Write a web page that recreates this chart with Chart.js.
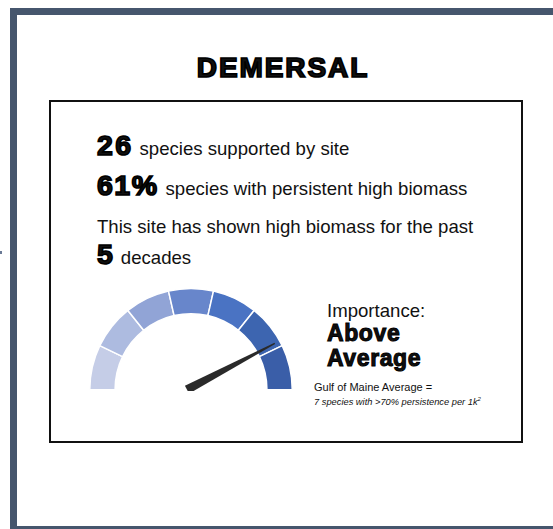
<!DOCTYPE html>
<html>
<head>
<meta charset="utf-8">
<script src="https://cdn.jsdelivr.net/npm/chart.js@4"></script>
<style>
  html, body { margin: 0; padding: 0; background: #fff; }
  body { width: 553px; height: 529px; overflow: hidden; position: relative; font-family: "Liberation Sans", Arial, sans-serif; color: #111; }
  .frame { position: absolute; left: 10px; top: 8px; width: 600px; height: 511px; border: 7px solid #46566d; }
  .dot { position: absolute; left: 0; top: 251px; width: 2px; height: 3px; background: #6a7a96; }
  .box { position: absolute; left: 49px; top: 100px; width: 470px; height: 339px; border: 2.5px solid #111; }
  .title { position: absolute; left: 0; width: 566px; top: 52px; text-align: center; font-size: 28px; font-weight: bold; letter-spacing: 1.9px; -webkit-text-stroke: 1.7px #000; }
  .t { position: absolute; white-space: nowrap; font-size: 18.6px; line-height: 22px; }
  .big { font-weight: bold; -webkit-text-stroke: 1.6px #000; font-size: 28.5px; letter-spacing: 2.4px; }
  .imp { font-size: 23px; -webkit-text-stroke: 1px #000; letter-spacing: 0.6px; line-height: 24px; }
  #gaugeWrap { position: absolute; left: 89px; top: 287px; width: 204px; height: 104px; }
</style>
</head>
<body>
<div class="frame"></div>
<div class="dot"></div>
<div class="title">DEMERSAL</div>
<div class="box"></div>

<div class="t" style="left:97px; top:132px; line-height:27px;"><span class="big" id="speciesCount" style="margin-right:6px;"></span>species supported by site</div>
<div class="t" style="left:97px; top:172px; line-height:27px;"><span class="big" id="persistPct" style="letter-spacing:1.5px; margin-right:7px;"></span>species with persistent high biomass</div>
<div class="t" style="left:97px; top:216px;">This site has shown high biomass for the past</div>
<div class="t" style="left:97px; top:241px; line-height:27px;"><span class="big" id="decades" style="letter-spacing:0; margin-right:8px;"></span>decades</div>

<div class="t" style="left:327px; top:300px;">Importance:</div>
<div class="t big imp" style="left:327px; top:321px;" id="imp1"></div>
<div class="t big imp" style="left:327px; top:346px;" id="imp2"></div>
<div class="t" style="left:314px; top:381px; font-size:11px; line-height:13px;">Gulf of Maine Average =</div>
<div class="t" style="left:314px; top:393px; font-size:9.3px; line-height:13px; font-style:italic;">7 species with &gt;70% persistence per 1k<sup style="font-size:6px;">2</sup></div>

<div id="gaugeWrap"><canvas id="gauge"></canvas></div>

<script>
// site summary values
const speciesCount = 26;
const persistentPct = 61;
const decades = 5;
const importanceLabel = ["Above", "Average"];

// gauge: seven equal bands, light to dark
const bandLabels = ["1", "2", "3", "4", "5", "6", "7"];
const bandValues = [1, 1, 1, 1, 1, 1, 1];
const bandColors = ["#c5cde7", "#adbbe0", "#91a4d6", "#6886cb", "#4a73c3", "#3d65b0", "#3a5ea8"];
const needleValue = 5.92; // position on the 0..7 band scale

document.getElementById("speciesCount").textContent = speciesCount;
document.getElementById("persistPct").textContent = persistentPct + "%";
document.getElementById("decades").textContent = decades;
document.getElementById("imp1").textContent = importanceLabel[0];
document.getElementById("imp2").textContent = importanceLabel[1];

// draws the needle over the doughnut
const needlePlugin = {
    id: "needle",
    afterDatasetsDraw(chart) {
        const arcs = chart.getDatasetMeta(0).data;
        if (!arcs.length) return;
        const first = arcs[0], last = arcs[arcs.length - 1];
        const total = bandValues.reduce((a, b) => a + b, 0);
        const angle = first.startAngle + (last.endAngle - first.startAngle) * (needleValue / total);
        const cx = first.x, cy = first.y;
        const len = first.outerRadius - 2;
        const c = chart.ctx;
        c.save();
        c.translate(cx - 4, cy);
        c.rotate(angle);
        c.beginPath();
        c.moveTo(0, -4.5);
        c.lineTo(len, -0.6);
        c.lineTo(len, 0.6);
        c.lineTo(0, 4.5);
        c.closePath();
        c.fillStyle = "#2a2a2a";
        c.fill();
        c.restore();
    }
};

new Chart(document.getElementById("gauge"), {
    type: "doughnut",
    data: {
        labels: bandLabels,
        datasets: [{
            data: bandValues,
            backgroundColor: bandColors,
            borderColor: "#ffffff",
            borderWidth: 1.5
        }]
    },
    options: {
        responsive: true,
        maintainAspectRatio: false,
        animation: false,
        rotation: -90,
        circumference: 180,
        cutout: "75%",
        layout: { padding: 0 },
        plugins: {
            legend: { display: false },
            tooltip: { enabled: false }
        },
        events: []
    },
    plugins: [needlePlugin]
});
</script>
</body>
</html>
